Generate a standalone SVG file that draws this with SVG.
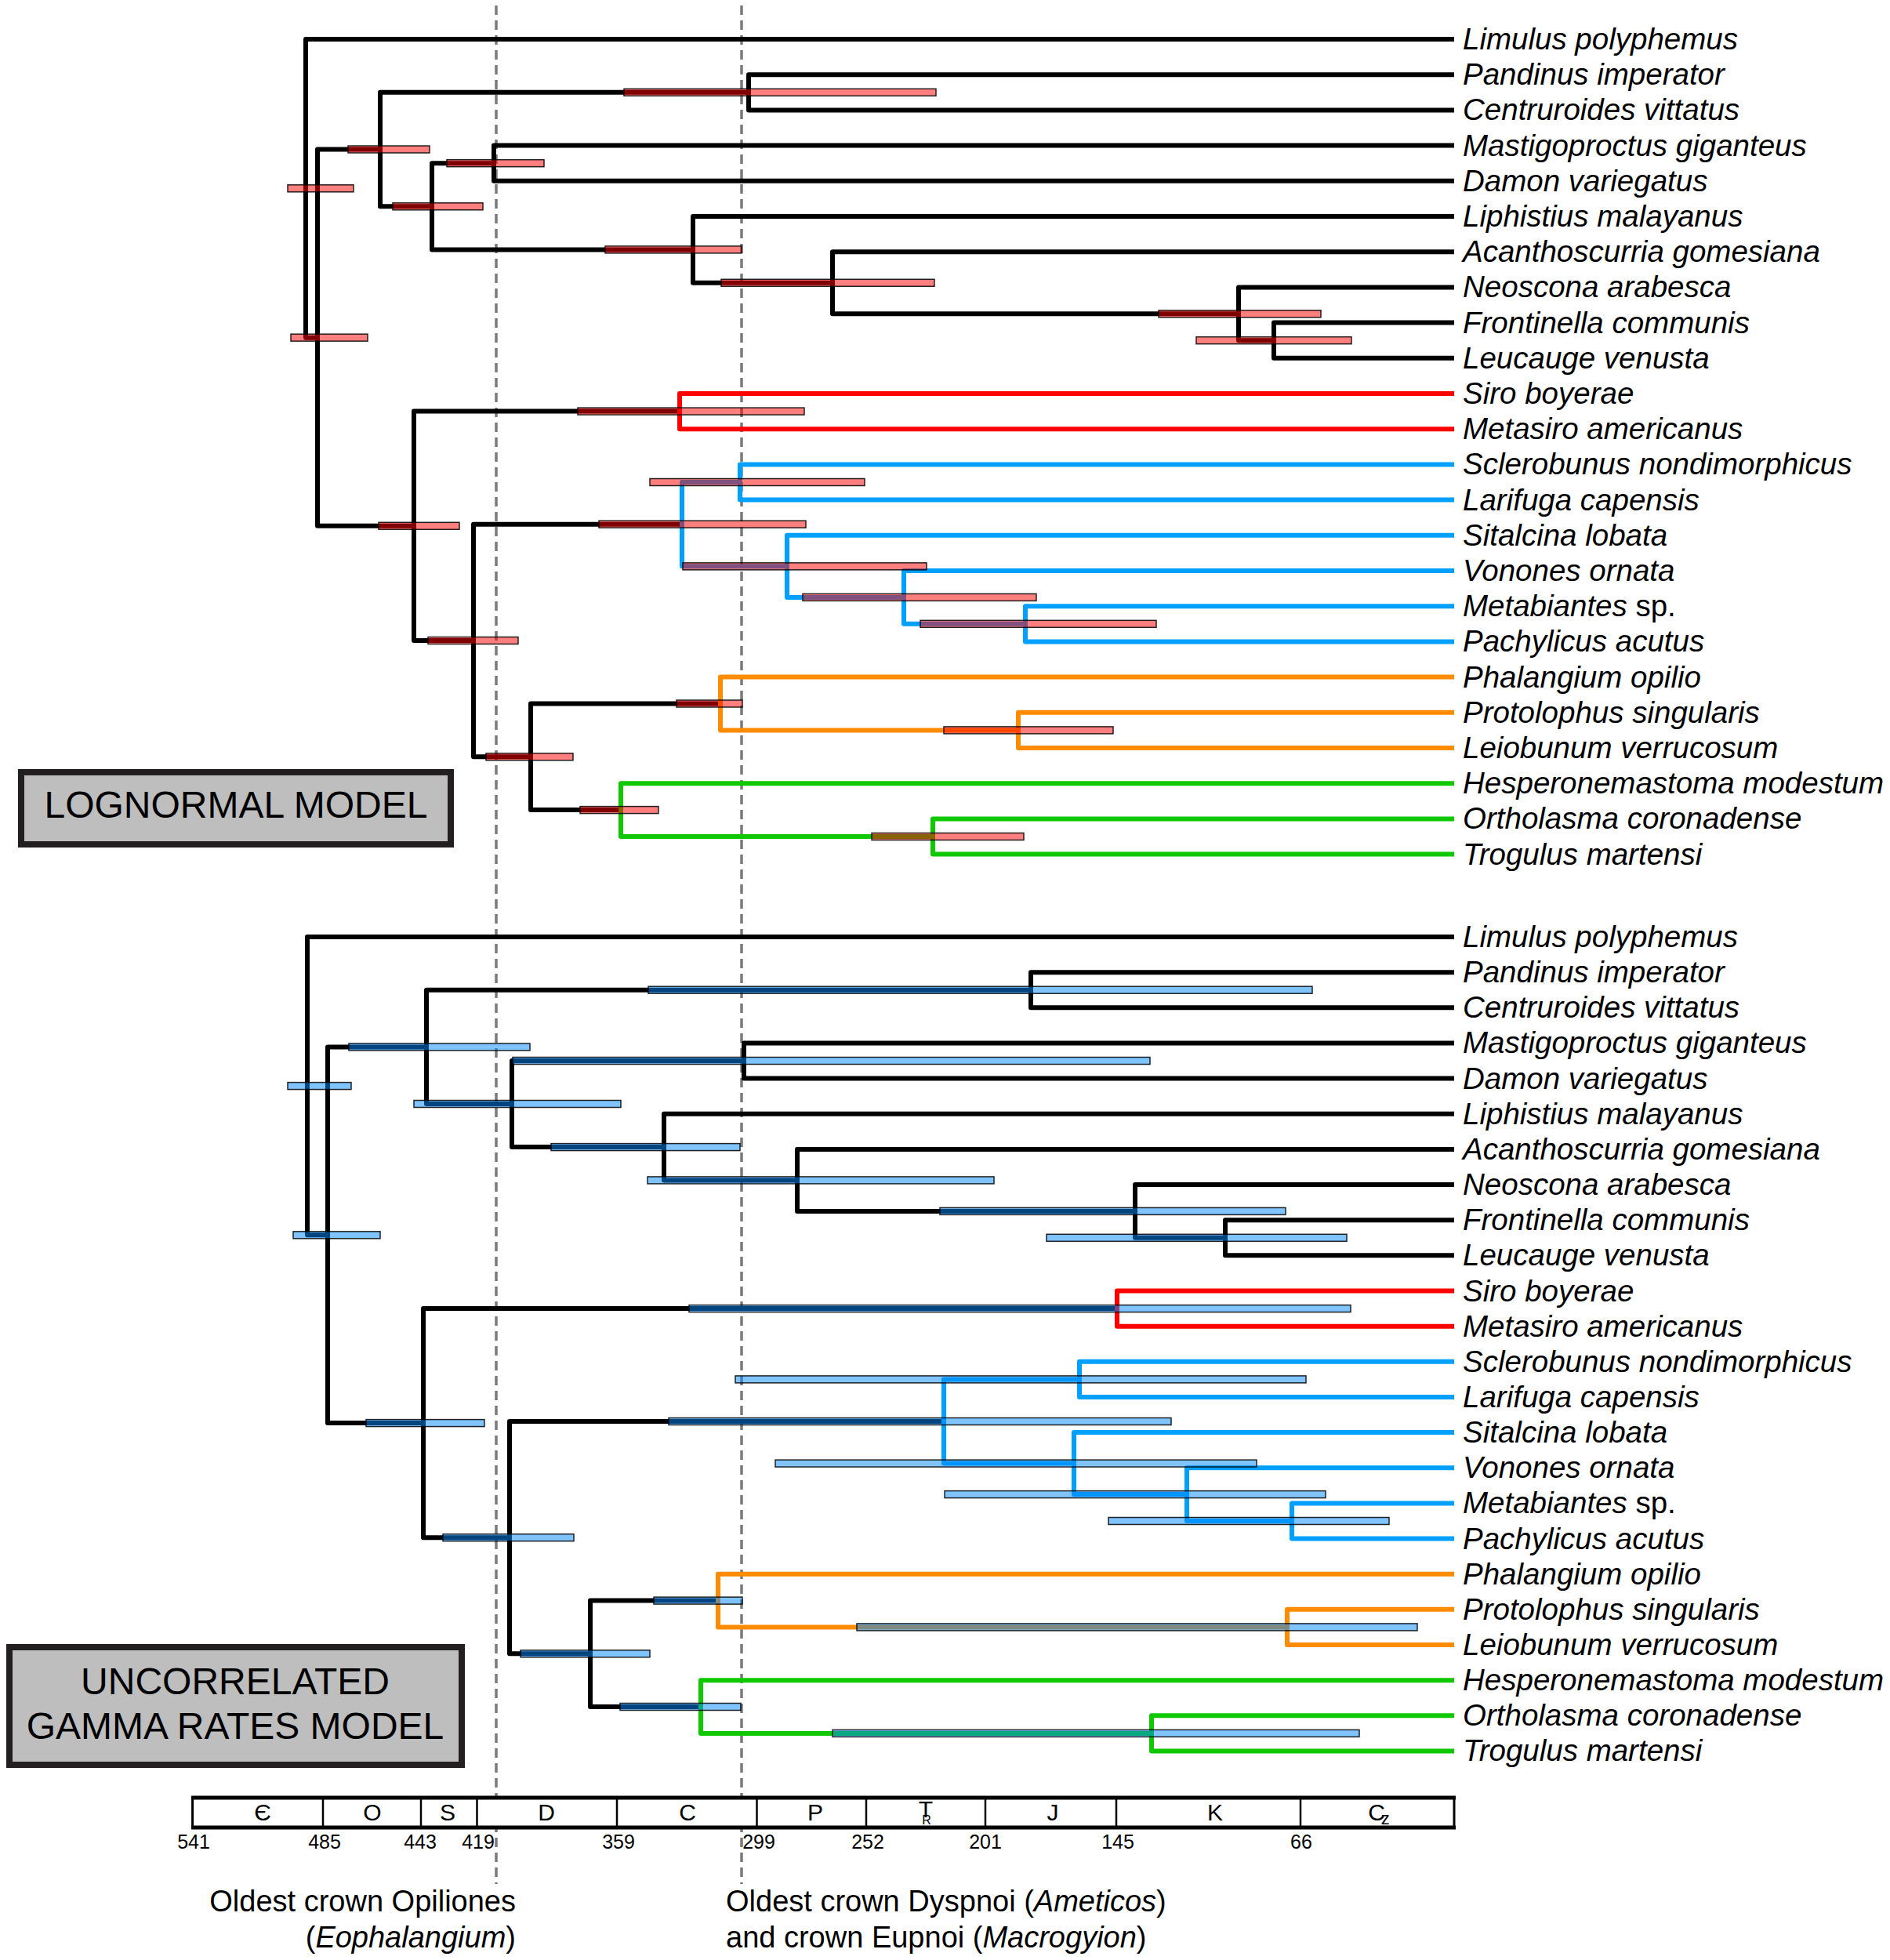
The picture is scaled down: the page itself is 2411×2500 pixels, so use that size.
<svg xmlns="http://www.w3.org/2000/svg" width="2411" height="2500" viewBox="0 0 2411 2500">
<style>
.br{fill:none;stroke-width:6;stroke-linejoin:round}
.k{stroke:#000}.r{stroke:#ff0000}.b{stroke:#00a0ff}.o{stroke:#ff8c00}.g{stroke:#10c800}
.hp{fill:#ff0000;fill-opacity:.5;stroke:#000;stroke-width:1.5;stroke-opacity:.85}
.hb{fill:#0088ff;fill-opacity:.5;stroke:#000;stroke-width:1.5;stroke-opacity:.85}
.tx{font-family:"Liberation Sans",Arial,sans-serif;font-style:italic;font-size:38.5px;fill:#000}
.nm{font-style:normal}
.mb{fill:#bebebe;stroke:#231f20;stroke-width:8}
.mt{font-family:"Liberation Sans",Arial,sans-serif;font-size:48px;text-anchor:middle;fill:#000}
.dash{stroke:#7a7a7a;stroke-width:3.5;stroke-dasharray:12 7;fill:none}
.per{font-family:"Liberation Sans",Arial,sans-serif;font-size:30px;text-anchor:middle}
.num{font-family:"Liberation Sans",Arial,sans-serif;font-size:25px;text-anchor:middle}
.ann{font-family:"Liberation Sans",Arial,sans-serif;font-size:38px}
</style>
<rect width="2411" height="2500" fill="#fff"/>
<g id="fossil-lines">
<line class="dash" x1="633" y1="7" x2="633" y2="2403"/>
<line class="dash" x1="946" y1="7" x2="946" y2="2403"/>
</g>
<g id="connectors">
<!-- top tree -->
<path class="br k" d="M1855,50 H390 V430.65 H405"/>
<path class="br k" d="M485,190.5 H405 V670.8 H528"/>
<path class="br k" d="M955,117.8 H485 V263.3 H551"/>
<path class="br k" d="M1855,95.2 H955 V140.4 H1855"/>
<path class="br k" d="M630,208.2 H551 V318.4 H884"/>
<path class="br k" d="M1855,185.6 H630 V230.8 H1855"/>
<path class="br k" d="M1855,276 H884 V360.75 H1062"/>
<path class="br k" d="M1855,321.2 H1062 V400.3 H1580"/>
<path class="br k" d="M1855,366.4 H1580 V434.2 H1625"/>
<path class="br k" d="M1855,411.6 H1625 V456.8 H1855"/>
<path class="br k" d="M867,524.6 H528 V817 H604"/>
<path class="br r" d="M1855,502 H867 V547.2 H1855"/>
<path class="br k" d="M870,668.7 H604 V965.3 H677"/>
<path class="br b" d="M944,615 H870 V722.35 H1004"/>
<path class="br b" d="M1855,592.4 H944 V637.6 H1855"/>
<path class="br b" d="M1855,682.8 H1004 V761.9 H1153"/>
<path class="br b" d="M1855,728 H1153 V795.8 H1308"/>
<path class="br b" d="M1855,773.2 H1308 V818.4 H1855"/>
<path class="br k" d="M919,897.5 H677 V1033.1 H792"/>
<path class="br o" d="M1855,863.6 H919 V931.4 H1299"/>
<path class="br o" d="M1855,908.8 H1299 V954 H1855"/>
<path class="br g" d="M1855,999.2 H792 V1067 H1190"/>
<path class="br g" d="M1855,1044.4 H1190 V1089.6 H1855"/>
<!-- bottom tree -->
<path class="br k" d="M1855,1195 H392 V1575.3 H418"/>
<path class="br k" d="M544,1335.4 H418 V1815.1 H540"/>
<path class="br k" d="M1315,1262.7 H544 V1408 H653"/>
<path class="br k" d="M1855,1240.15 H1315 V1285.3 H1855"/>
<path class="br k" d="M949,1353 H653 V1463.1 H847"/>
<path class="br k" d="M1855,1330.45 H949 V1375.6 H1855"/>
<path class="br k" d="M1855,1420.75 H847 V1505.4 H1017"/>
<path class="br k" d="M1855,1465.9 H1017 V1544.9 H1448"/>
<path class="br k" d="M1855,1511.05 H1448 V1578.8 H1563"/>
<path class="br k" d="M1855,1556.2 H1563 V1601.35 H1855"/>
<path class="br k" d="M1425,1669.1 H540 V1961.2 H650"/>
<path class="br r" d="M1855,1646.5 H1425 V1691.65 H1855"/>
<path class="br k" d="M1204,1813 H650 V2109.3 H753"/>
<path class="br b" d="M1377,1759.4 H1204 V1866.6 H1370"/>
<path class="br b" d="M1855,1736.8 H1377 V1781.95 H1855"/>
<path class="br b" d="M1855,1827.1 H1370 V1906.1 H1514"/>
<path class="br b" d="M1855,1872.25 H1514 V1940 H1648"/>
<path class="br b" d="M1855,1917.4 H1648 V1962.55 H1855"/>
<path class="br k" d="M916,2041.6 H753 V2177 H894"/>
<path class="br o" d="M1855,2007.7 H916 V2075.4 H1642"/>
<path class="br o" d="M1855,2052.85 H1642 V2098 H1855"/>
<path class="br g" d="M1855,2143.15 H894 V2210.9 H1469"/>
<path class="br g" d="M1855,2188.3 H1469 V2233.45 H1855"/>
</g>
<g id="hpd-lognormal">
<rect class="hp" x="367" y="235.8" width="84" height="9"/>
<rect class="hp" x="371" y="426.15" width="98" height="9"/>
<rect class="hp" x="444" y="186" width="104" height="9"/>
<rect class="hp" x="796" y="113.3" width="398" height="9"/>
<rect class="hp" x="501" y="258.8" width="115" height="9"/>
<rect class="hp" x="570" y="203.7" width="124" height="9"/>
<rect class="hp" x="772" y="313.9" width="174" height="9"/>
<rect class="hp" x="920" y="356.25" width="272" height="9"/>
<rect class="hp" x="1478" y="395.8" width="207" height="9"/>
<rect class="hp" x="1526" y="429.7" width="198" height="9"/>
<rect class="hp" x="483" y="666.3" width="103" height="9"/>
<rect class="hp" x="737" y="520.1" width="289" height="9"/>
<rect class="hp" x="546" y="812.5" width="115" height="9"/>
<rect class="hp" x="764" y="664.2" width="264" height="9"/>
<rect class="hp" x="829" y="610.5" width="274" height="9"/>
<rect class="hp" x="871" y="717.85" width="311" height="9"/>
<rect class="hp" x="1024" y="757.4" width="298" height="9"/>
<rect class="hp" x="1174" y="791.3" width="301" height="9"/>
<rect class="hp" x="620" y="960.8" width="111" height="9"/>
<rect class="hp" x="863" y="893" width="84" height="9"/>
<rect class="hp" x="1204" y="926.9" width="216" height="9"/>
<rect class="hp" x="740" y="1028.6" width="100" height="9"/>
<rect class="hp" x="1112" y="1062.5" width="194" height="9"/>
</g>
<g id="hpd-gamma">
<rect class="hb" x="367" y="1380.6" width="81" height="9"/>
<rect class="hb" x="374" y="1570.8" width="111" height="9"/>
<rect class="hb" x="445" y="1330.9" width="231" height="9"/>
<rect class="hb" x="827" y="1258.2" width="847" height="9"/>
<rect class="hb" x="528" y="1403.5" width="264" height="9"/>
<rect class="hb" x="654" y="1348.5" width="813" height="9"/>
<rect class="hb" x="703" y="1458.6" width="241" height="9"/>
<rect class="hb" x="826" y="1500.9" width="442" height="9"/>
<rect class="hb" x="1199" y="1540.4" width="441" height="9"/>
<rect class="hb" x="1335" y="1574.3" width="383" height="9"/>
<rect class="hb" x="467" y="1810.6" width="151" height="9"/>
<rect class="hb" x="879" y="1664.6" width="844" height="9"/>
<rect class="hb" x="565" y="1956.7" width="167" height="9"/>
<rect class="hb" x="853" y="1808.5" width="641" height="9"/>
<rect class="hb" x="938" y="1754.9" width="728" height="9"/>
<rect class="hb" x="989" y="1862.1" width="614" height="9"/>
<rect class="hb" x="1205" y="1901.6" width="486" height="9"/>
<rect class="hb" x="1414" y="1935.5" width="358" height="9"/>
<rect class="hb" x="664" y="2104.8" width="165" height="9"/>
<rect class="hb" x="834" y="2037.1" width="113" height="9"/>
<rect class="hb" x="1093" y="2070.9" width="715" height="9"/>
<rect class="hb" x="791" y="2172.5" width="154" height="9"/>
<rect class="hb" x="1062" y="2206.4" width="672" height="9"/>
</g>
<g id="labels-lognormal" class="tx">
<g id="t-limulus-1"><text x="1866" y="63">Limulus polyphemus</text></g>
<g id="t-pandinus-1"><text x="1866" y="108.2">Pandinus imperator</text></g>
<g id="t-centruroides-1"><text x="1866" y="153.4">Centruroides vittatus</text></g>
<g id="t-mastigoproctus-1"><text x="1866" y="198.6">Mastigoproctus giganteus</text></g>
<g id="t-damon-1"><text x="1866" y="243.8">Damon variegatus</text></g>
<g id="t-liphistius-1"><text x="1866" y="289">Liphistius malayanus</text></g>
<g id="t-acanthoscurria-1"><text x="1866" y="334.2">Acanthoscurria gomesiana</text></g>
<g id="t-neoscona-1"><text x="1866" y="379.4">Neoscona arabesca</text></g>
<g id="t-frontinella-1"><text x="1866" y="424.6">Frontinella communis</text></g>
<g id="t-leucauge-1"><text x="1866" y="469.8">Leucauge venusta</text></g>
<g id="t-siro-1"><text x="1866" y="515">Siro boyerae</text></g>
<g id="t-metasiro-1"><text x="1866" y="560.2">Metasiro americanus</text></g>
<g id="t-sclerobunus-1"><text x="1866" y="605.4">Sclerobunus nondimorphicus</text></g>
<g id="t-larifuga-1"><text x="1866" y="650.6">Larifuga capensis</text></g>
<g id="t-sitalcina-1"><text x="1866" y="695.8">Sitalcina lobata</text></g>
<g id="t-vonones-1"><text x="1866" y="741">Vonones ornata</text></g>
<g id="t-metabiantes-1"><text x="1866" y="786.2">Metabiantes <tspan class="nm">sp.</tspan></text></g>
<g id="t-pachylicus-1"><text x="1866" y="831.4">Pachylicus acutus</text></g>
<g id="t-phalangium-1"><text x="1866" y="876.6">Phalangium opilio</text></g>
<g id="t-protolophus-1"><text x="1866" y="921.8">Protolophus singularis</text></g>
<g id="t-leiobunum-1"><text x="1866" y="967">Leiobunum verrucosum</text></g>
<g id="t-hesperonemastoma-1"><text x="1866" y="1012.2">Hesperonemastoma modestum</text></g>
<g id="t-ortholasma-1"><text x="1866" y="1057.4">Ortholasma coronadense</text></g>
<g id="t-trogulus-1"><text x="1866" y="1102.6">Trogulus martensi</text></g>
</g>
<g id="labels-gamma" class="tx">
<g id="t-limulus-2"><text x="1866" y="1208">Limulus polyphemus</text></g>
<g id="t-pandinus-2"><text x="1866" y="1253.15">Pandinus imperator</text></g>
<g id="t-centruroides-2"><text x="1866" y="1298.3">Centruroides vittatus</text></g>
<g id="t-mastigoproctus-2"><text x="1866" y="1343.45">Mastigoproctus giganteus</text></g>
<g id="t-damon-2"><text x="1866" y="1388.6">Damon variegatus</text></g>
<g id="t-liphistius-2"><text x="1866" y="1433.75">Liphistius malayanus</text></g>
<g id="t-acanthoscurria-2"><text x="1866" y="1478.9">Acanthoscurria gomesiana</text></g>
<g id="t-neoscona-2"><text x="1866" y="1524.05">Neoscona arabesca</text></g>
<g id="t-frontinella-2"><text x="1866" y="1569.2">Frontinella communis</text></g>
<g id="t-leucauge-2"><text x="1866" y="1614.35">Leucauge venusta</text></g>
<g id="t-siro-2"><text x="1866" y="1659.5">Siro boyerae</text></g>
<g id="t-metasiro-2"><text x="1866" y="1704.65">Metasiro americanus</text></g>
<g id="t-sclerobunus-2"><text x="1866" y="1749.8">Sclerobunus nondimorphicus</text></g>
<g id="t-larifuga-2"><text x="1866" y="1794.95">Larifuga capensis</text></g>
<g id="t-sitalcina-2"><text x="1866" y="1840.1">Sitalcina lobata</text></g>
<g id="t-vonones-2"><text x="1866" y="1885.25">Vonones ornata</text></g>
<g id="t-metabiantes-2"><text x="1866" y="1930.4">Metabiantes <tspan class="nm">sp.</tspan></text></g>
<g id="t-pachylicus-2"><text x="1866" y="1975.55">Pachylicus acutus</text></g>
<g id="t-phalangium-2"><text x="1866" y="2020.7">Phalangium opilio</text></g>
<g id="t-protolophus-2"><text x="1866" y="2065.85">Protolophus singularis</text></g>
<g id="t-leiobunum-2"><text x="1866" y="2111">Leiobunum verrucosum</text></g>
<g id="t-hesperonemastoma-2"><text x="1866" y="2156.15">Hesperonemastoma modestum</text></g>
<g id="t-ortholasma-2"><text x="1866" y="2201.3">Ortholasma coronadense</text></g>
<g id="t-trogulus-2"><text x="1866" y="2246.45">Trogulus martensi</text></g>
</g>
<g id="model-lognormal">
<rect class="mb" x="27" y="985" width="548" height="92"/>
<text class="mt" x="301" y="1043">LOGNORMAL MODEL</text>
</g>
<g id="model-gamma">
<rect class="mb" x="12" y="2101" width="577" height="150"/>
<text class="mt" x="300" y="2161">UNCORRELATED</text>
<text class="mt" x="300" y="2218">GAMMA RATES MODEL</text>
</g>
<g id="timescale">
<rect x="245.6" y="2293" width="1609.4" height="38" fill="#fff" stroke="#000" stroke-width="3"/>
<line x1="244" y1="2293" x2="1857" y2="2293" stroke="#000" stroke-width="5"/>
<line x1="244" y1="2331" x2="1857" y2="2331" stroke="#000" stroke-width="5"/>
<g stroke="#000" stroke-width="2.5">
<line x1="412" y1="2293" x2="412" y2="2331"/>
<line x1="537" y1="2293" x2="537" y2="2331"/>
<line x1="608.5" y1="2293" x2="608.5" y2="2331"/>
<line x1="787" y1="2293" x2="787" y2="2331"/>
<line x1="965.5" y1="2293" x2="965.5" y2="2331"/>
<line x1="1105" y1="2293" x2="1105" y2="2331"/>
<line x1="1257" y1="2293" x2="1257" y2="2331"/>
<line x1="1424" y1="2293" x2="1424" y2="2331"/>
<line x1="1659" y1="2293" x2="1659" y2="2331"/>
</g>
<g class="per">
<text x="335" y="2322">Є</text>
<text x="475" y="2322">O</text>
<text x="571" y="2322">S</text>
<text x="697" y="2322">D</text>
<text x="877" y="2322">C</text>
<text x="1040" y="2322">P</text>
<text x="1181" y="2318">T<tspan font-size="16" dx="-14" dy="9">R</tspan></text>
<text x="1759" y="2322">C<tspan font-size="22" dx="-5" dy="5">z</tspan></text>
<text x="1343" y="2322">J</text>
<text x="1550" y="2322">K</text>
</g>
<g class="num">
<text x="247" y="2358">541</text>
<text x="414" y="2358">485</text>
<text x="536" y="2358">443</text>
<text x="610" y="2358">419</text>
<text x="789" y="2358">359</text>
<text x="968" y="2358">299</text>
<text x="1107" y="2358">252</text>
<text x="1257" y="2358">201</text>
<text x="1426" y="2358">145</text>
<text x="1660" y="2358">66</text>
</g>
</g>
<g id="annotation-opiliones" class="ann">
<text x="658" y="2438" text-anchor="end">Oldest crown Opiliones</text>
<text x="658" y="2484" text-anchor="end">(<tspan font-style="italic">Eophalangium</tspan>)</text>
</g>
<g id="annotation-dyspnoi" class="ann">
<text x="926" y="2438">Oldest crown Dyspnoi (<tspan font-style="italic">Ameticos</tspan>)</text>
<text x="926" y="2484">and crown Eupnoi (<tspan font-style="italic">Macrogyion</tspan>)</text>
</g>
</svg>
